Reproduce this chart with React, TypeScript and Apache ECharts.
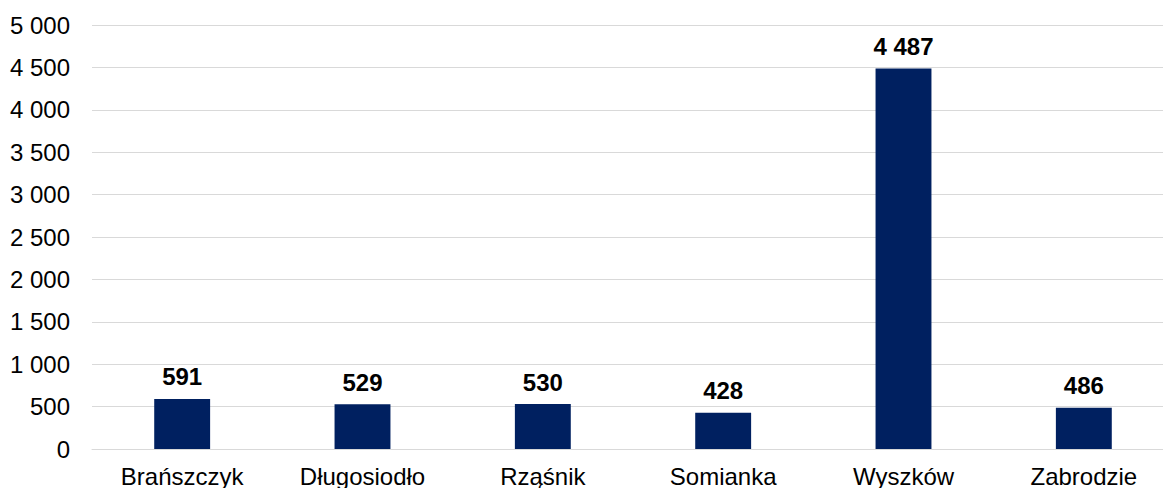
import React, { useEffect, useRef } from "react";
import * as echarts from "echarts";

const categories = ["Brańszczyk", "Długosiodło", "Rząśnik", "Somianka", "Wyszków", "Zabrodzie"];
const values = [591, 529, 530, 428, 4487, 486];
const yMin = 0;
const yMax = 5000;
const yInterval = 500;

const fmt = (v: number) => String(v).replace(/\B(?=(\d{3})+(?!\d))/g, " ");

export default function App() {
  const ref = useRef<HTMLDivElement>(null);
  useEffect(() => {
    if (!ref.current) return;
    const chart = echarts.init(ref.current, undefined, { renderer: "svg" });
    chart.setOption({
      animation: false,
      grid: { left: 92, right: 0, top: 25, bottom: 38, containLabel: false },
      xAxis: {
        type: "category",
        data: categories,
        axisLine: { show: true, lineStyle: { color: "#d9d9d9", width: 1 } },
        axisTick: { show: false },
        axisLabel: {
          color: "#000",
          fontFamily: "Liberation Sans, Arial, sans-serif",
          fontSize: 24,
          margin: 15,
          interval: 0,
        },
      },
      yAxis: {
        type: "value",
        min: yMin,
        max: yMax,
        interval: yInterval,
        axisLine: { show: false },
        axisTick: { show: false },
        splitLine: { lineStyle: { color: "#d9d9d9", width: 1 } },
        axisLabel: {
          color: "#000",
          fontFamily: "Liberation Sans, Arial, sans-serif",
          fontSize: 24,
          margin: 22,
          formatter: (v: number) => fmt(v),
        },
      },
      series: [
        {
          type: "bar",
          data: values,
          barWidth: "31%",
          itemStyle: { color: "#002060" },
          label: {
            show: true,
            position: "top",
            distance: 10,
            color: "#000",
            fontWeight: "bold",
            fontFamily: "Liberation Sans, Arial, sans-serif",
            fontSize: 24,
            formatter: (p: any) => fmt(p.value),
          },
        },
      ],
    });
    return () => chart.dispose();
  }, []);
  return (
    <div style={{ position: "fixed", left: 0, top: 0, width: 1163, height: 488, overflow: "hidden", background: "#fff" }}>
      <div ref={ref} style={{ width: 1174, height: 488 }} />
    </div>
  );
}
